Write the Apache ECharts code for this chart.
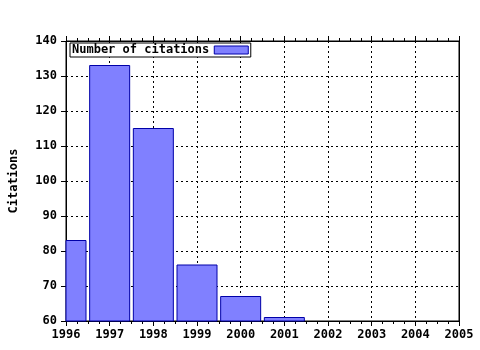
<!DOCTYPE html>
<html>
<head>
<meta charset="utf-8">
<script src="https://cdn.jsdelivr.net/npm/echarts@6/dist/echarts.min.js"></script>
<style>
  html, body { margin: 0; padding: 0; background: #fff; }
  #chart { width: 480px; height: 350px; }
</style>
</head>
<body>
<div id="chart"></div>
<script>
// data
const years = [1996, 1997, 1998, 1999, 2000, 2001];
const citations = [83, 133, 115, 76, 67, 61];
const seriesName = 'Number of citations';

const font = 'DejaVu Sans Mono';
const barFill = '#8080ff';
const barEdge = '#0000a8';
const chart = echarts.init(document.getElementById('chart'));

const dotted = { show: true, lineStyle: { color: '#000', type: [2, 3], width: 1 } };

// bars drawn as a custom series so the half bar at 1996 gets clipped to the grid
function renderBar(params, api) {
    const x = api.value(0);
    const top = api.coord([x, api.value(1)]);
    const base = api.coord([x, 60]);
    const w = 40;
    const rect = echarts.graphic.clipRectByRect({
        x: top[0] - w / 2,
        y: top[1],
        width: w,
        height: base[1] - top[1]
    }, {
        x: params.coordSys.x,
        y: params.coordSys.y,
        width: params.coordSys.width,
        height: params.coordSys.height
    });
    if (!rect) return;
    return {
        type: 'rect',
        shape: rect,
        style: { fill: barFill, stroke: barEdge, lineWidth: 1 }
    };
}

chart.setOption({
    animation: false,
    textStyle: { fontFamily: font },
    grid: {
        left: 64, right: 21, top: 41, bottom: 29,
        show: true, borderColor: '#000', borderWidth: 1
    },
    legend: {
        data: [{ name: seriesName, icon: 'rect' }],
        left: 70, top: 43,
        align: 'right',
        padding: [1, 2, 1, 2],
        itemGap: 8,
        itemWidth: 34, itemHeight: 8,
        borderColor: '#000', borderWidth: 1, borderRadius: 0,
        backgroundColor: '#fff',
        itemStyle: { color: barFill, borderColor: barEdge, borderWidth: 1 },
        textStyle: { fontFamily: font, fontWeight: 'bold', fontSize: 12, color: '#000' }
    },
    xAxis: [{
        type: 'value',
        min: 1996, max: 2005, interval: 1,
        axisLine: { show: true, lineStyle: { color: '#000' } },
        axisTick: { show: true, inside: false, length: 5, lineStyle: { color: '#000' } },
        minorTick: { show: true, splitNumber: 4, length: 3, lineStyle: { color: '#000' } },
        splitLine: dotted,
        axisLabel: {
            margin: 8, color: '#000', fontFamily: font, fontWeight: 'bold', fontSize: 12,
            formatter: v => String(v)
        }
    }, {
        type: 'value', position: 'top',
        min: 1996, max: 2005, interval: 1,
        axisLine: { show: true, lineStyle: { color: '#000' } },
        axisTick: { show: true, inside: false, length: 5, lineStyle: { color: '#000' } },
        minorTick: { show: true, splitNumber: 4, length: 3, lineStyle: { color: '#000' } },
        splitLine: { show: false },
        axisLabel: { show: false }
    }],
    yAxis: [{
        type: 'value',
        min: 60, max: 140, interval: 10,
        name: 'Citations',
        nameLocation: 'middle',
        nameGap: 46,
        nameTextStyle: { color: '#000', fontFamily: font, fontWeight: 'bold', fontSize: 12 },
        axisLine: { show: true, lineStyle: { color: '#000' } },
        axisTick: { show: true, inside: false, length: 5, lineStyle: { color: '#000' } },
        splitLine: dotted,
        axisLabel: { margin: 9, color: '#000', fontFamily: font, fontWeight: 'bold', fontSize: 12 }
    }, {
        type: 'value', position: 'right',
        min: 60, max: 140, interval: 10,
        axisLine: { show: true, lineStyle: { color: '#000' } },
        axisTick: { show: false },
        splitLine: { show: false },
        axisLabel: { show: false }
    }],
    series: [{
        name: seriesName,
        type: 'custom',
        xAxisIndex: 0, yAxisIndex: 0,
        renderItem: renderBar,
        itemStyle: { color: barFill, borderColor: barEdge },
        encode: { x: 0, y: 1 },
        data: years.map((y, i) => [y, citations[i]])
    }]
});
</script>
</body>
</html>
